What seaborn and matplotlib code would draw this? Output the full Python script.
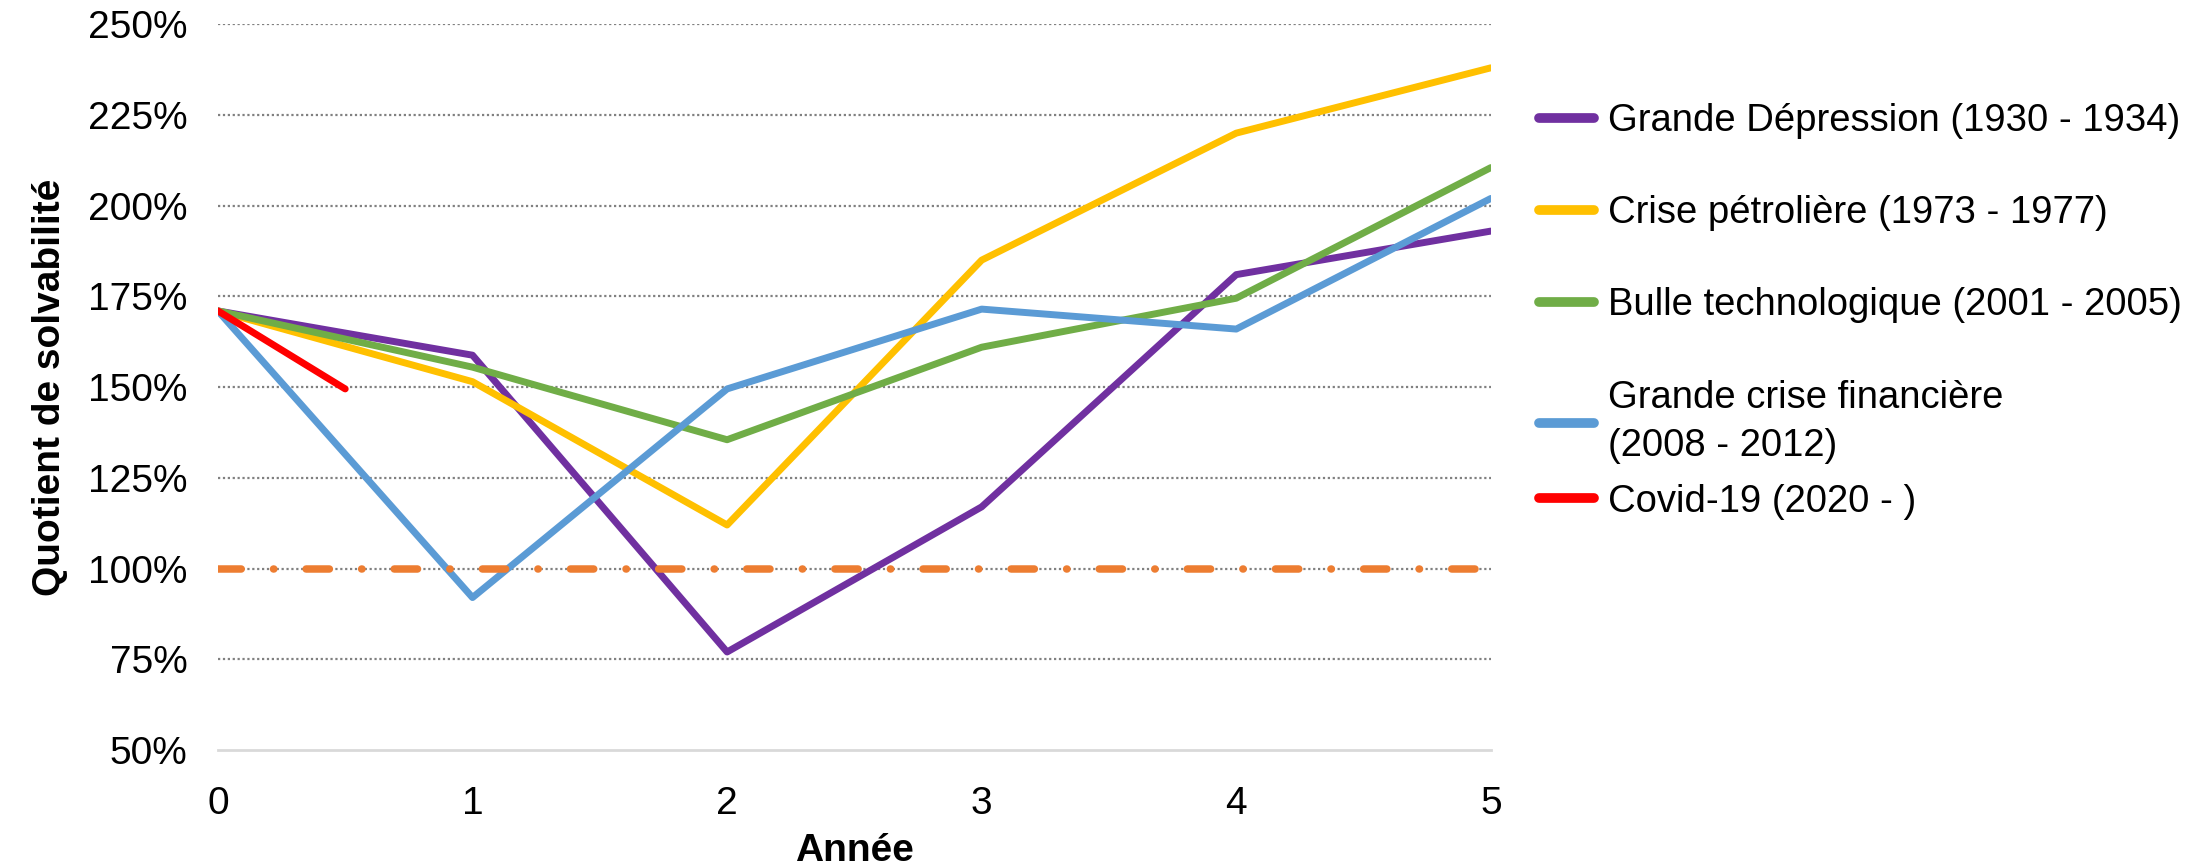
import pandas as pd
import matplotlib.pyplot as plt
import seaborn as sns
from matplotlib.ticker import FuncFormatter

sns.set_theme(style="white")
plt.rcParams['font.family'] = ['Liberation Sans', 'DejaVu Sans']
plt.rcParams['text.color'] = 'black'
plt.rcParams['axes.labelcolor'] = 'black'

# Data (solvency ratio, %)
annees = [0, 1, 2, 3, 4, 5]
grande_depression = [171, 158.8, 77, 117, 181, 193]
crise_petroliere = [171, 151.5, 112, 185, 220, 238]
bulle_techno = [171, 155.5, 135.5, 161, 174.5, 210.5]
crise_financiere = [171, 92, 149.5, 171.5, 166, 202]
covid_annees = [0, 0.5]
covid = [171, 149.5]
seuil = [100, 100, 100, 100, 100, 100]

labels = [
    'Grande Dépression (1930 - 1934)',
    'Crise pétrolière (1973 - 1977)',
    'Bulle technologique (2001 - 2005)',
    'Grande crise financière\n(2008 - 2012)',
    'Covid-19 (2020 - )',
]
colors = ['#7030A0', '#FFC000', '#70AD47', '#5B9BD5', '#FF0000']

frames = []
for lab, xs, ys in zip(labels,
                       [annees, annees, annees, annees, covid_annees],
                       [grande_depression, crise_petroliere, bulle_techno,
                        crise_financiere, covid]):
    frames.append(pd.DataFrame({'Année': xs, 'Quotient': ys, 'Série': lab}))
df = pd.concat(frames, ignore_index=True)

fig = plt.figure(figsize=(22.08, 8.67), dpi=100)
ax = fig.add_axes([0.0987, 0.135, 0.5765, 0.837])

# Gridlines (dotted grey)
for y in [75, 100, 125, 150, 175, 200, 225, 250]:
    ax.axhline(y, color='#808080', lw=1.6, linestyle=(0, (1, 1.2)), zorder=1)

sns.lineplot(data=df, x='Année', y='Quotient', hue='Série', hue_order=labels,
             palette=dict(zip(labels, colors)), sort=False, lw=5,
             solid_capstyle='round', ax=ax, zorder=3)

# 100% threshold
seuil_line, = ax.plot(annees, seuil, color='#ED7D31', lw=5.4, zorder=4,
                      dash_capstyle='round', solid_capstyle='round')
seuil_line.set_dashes((3.1, 4.3, 0.05, 4.3))

ax.set_xlim(0, 5)
ax.set_ylim(50, 250)
ax.set_xticks(annees)
ax.set_yticks([50, 75, 100, 125, 150, 175, 200, 225, 250])
ax.yaxis.set_major_formatter(FuncFormatter(lambda v, p: f"{v:.0f}%"))
ax.tick_params(axis='both', labelsize=28, length=0, colors='black')
ax.tick_params(axis='y', pad=22)
ax.tick_params(axis='x', pad=26)

for s in ['top', 'right', 'left']:
    ax.spines[s].set_visible(False)
ax.spines['bottom'].set_color('#D9D9D9')
ax.spines['bottom'].set_linewidth(2)

ax.set_xlabel('Année', fontsize=28, fontweight='bold', labelpad=8)
ax.set_ylabel('Quotient de solvabilité', fontsize=28, fontweight='bold', labelpad=14)

handles, labs = ax.get_legend_handles_labels()
for h in handles:
    h.set_linewidth(7)
    h.set_solid_capstyle('round')
ax.get_legend().remove()

leg_kw = dict(loc='upper left', bbox_transform=fig.transFigure, frameon=False,
              fontsize=27.5, handlelength=1.45, handletextpad=0.36,
              borderpad=0, borderaxespad=0)
leg1 = ax.legend(handles[:4], labs[:4], bbox_to_anchor=(0.697, 0.881),
                 labelspacing=1.47, **leg_kw)
for t in leg1.get_texts():
    t.set_linespacing(1.45)
ax.add_artist(leg1)
ax.legend(handles[4:], labs[4:], bbox_to_anchor=(0.697, 0.442), **leg_kw)

fig.savefig('out.png', dpi=100, facecolor='white')
